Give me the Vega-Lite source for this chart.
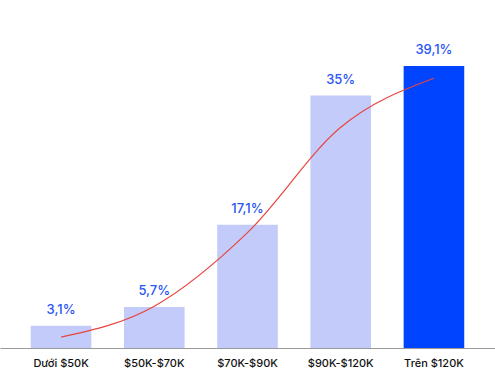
{
  "$schema": "https://vega.github.io/schema/vega-lite/v6.json",
  "width": 495,
  "height": 348,
  "padding": 0,
  "background": "white",
  "data": {
    "values": [
      {"cat": "Dưới $50K", "value": 3.1, "label": "3,1%", "trend": 1.5},
      {"cat": "$50K-$70K", "value": 5.7, "label": "5,7%", "trend": 5.8},
      {"cat": "$70K-$90K", "value": 17.1, "label": "17,1%", "trend": 16.0},
      {"cat": "$90K-$120K", "value": 35, "label": "35%", "trend": 30.6},
      {"cat": "Trên $120K", "value": 39.1, "label": "39,1%", "trend": 37.4}
    ]
  },
  "encoding": {
    "x": {
      "field": "cat",
      "type": "nominal",
      "sort": null,
      "scale": {"paddingInner": 0.35, "paddingOuter": 0.33},
      "axis": {
        "title": null,
        "labelAngle": 0,
        "ticks": false,
        "domainColor": "#9a9a9a",
        "domainWidth": 1,
        "labelFont": "Inter",
        "labelFontSize": 11,
        "labelFontWeight": 500,
        "labelColor": "#111111",
        "labelPadding": 9
      }
    }
  },
  "layer": [
    {
      "mark": {"type": "bar"},
      "encoding": {
        "y": {"field": "value", "type": "quantitative", "scale": {"domain": [0, 48.25], "nice": false, "zero": true}, "axis": null},
        "color": {
          "condition": {"test": "datum.cat === 'Trên $120K'", "value": "#0044ff"},
          "value": "#c2cbf9"
        }
      }
    },
    {
      "mark": {"type": "text", "dy": -16, "font": "Inter", "fontSize": 13, "fontWeight": 500, "color": "#2a55f5"},
      "encoding": {
        "y": {"field": "value", "type": "quantitative"},
        "text": {"field": "label"}
      }
    },
    {
      "mark": {"type": "line", "interpolate": "monotone", "color": "#e8453f", "strokeWidth": 1.2},
      "encoding": {
        "y": {"field": "trend", "type": "quantitative"}
      }
    }
  ],
  "config": {"view": {"stroke": null}}
}
